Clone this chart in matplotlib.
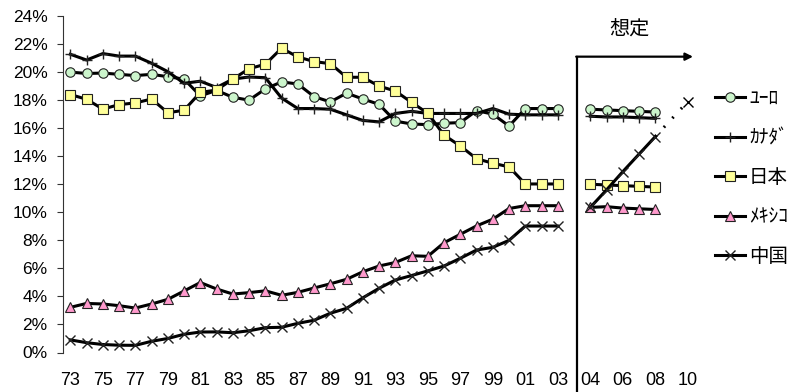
import matplotlib
matplotlib.use("Agg")
import matplotlib.pyplot as plt
from matplotlib.font_manager import FontProperties

# ---- data (share, %) ----
hist_years = [f"{y % 100:02d}" for y in range(1973, 2004)]
fc_years = ["04", "05", "06", "07", "08"]
tick_labels = ["73", "75", "77", "79", "81", "83", "85", "87", "89", "91",
               "93", "95", "97", "99", "01", "03", "04", "06", "08", "10"]

series_names = ["ﾕｰﾛ", "ｶﾅﾀﾞ", "日本", "ﾒｷｼｺ", "中国"]

euro_hist = [20.0, 19.9, 19.93, 19.84, 19.75, 19.84, 19.67, 19.5, 18.3, 18.7,
             18.2, 18.0, 18.8, 19.3, 19.15, 18.25, 17.87, 18.5, 18.08, 17.7,
             16.5, 16.3, 16.25, 16.35, 16.4, 17.25, 17.0, 16.15, 17.4, 17.4, 17.4]
canada_hist = [21.27, 20.86, 21.32, 21.14, 21.14, 20.63, 20.03, 19.2, 19.35, 18.9,
               19.5, 19.65, 19.6, 18.15, 17.4, 17.4, 17.35, 16.95, 16.55, 16.45,
               17.05, 17.2, 17.05, 17.05, 17.05, 17.05, 17.4, 17.0, 16.95, 16.95, 16.95]
japan_hist = [18.4, 18.06, 17.36, 17.68, 17.8, 18.08, 17.1, 17.28, 18.55, 18.72,
              19.5, 20.24, 20.56, 21.7, 21.08, 20.75, 20.6, 19.63, 19.63, 19.0,
              18.65, 17.84, 17.06, 15.5, 14.73, 13.82, 13.5, 13.24, 12.02, 12.02, 12.02]
mexico_hist = [3.22, 3.5, 3.46, 3.34, 3.17, 3.46, 3.79, 4.39, 4.99, 4.53,
               4.17, 4.27, 4.4, 4.08, 4.29, 4.6, 4.9, 5.22, 5.76, 6.17,
               6.42, 6.9, 6.86, 7.83, 8.43, 9.03, 9.51, 10.27, 10.47, 10.47, 10.47]
china_hist = [0.9, 0.7, 0.57, 0.52, 0.51, 0.8, 1.0, 1.3, 1.46, 1.47,
              1.41, 1.55, 1.77, 1.8, 2.08, 2.3, 2.8, 3.15, 3.9, 4.58,
              5.17, 5.49, 5.82, 6.17, 6.72, 7.31, 7.5, 8.0, 9.02, 9.02, 9.02]

euro_fc = [17.35, 17.3, 17.25, 17.2, 17.15]
canada_fc = [16.85, 16.8, 16.8, 16.75, 16.7]
japan_fc = [12.0, 11.95, 11.9, 11.85, 11.8]
mexico_fc = [10.35, 10.4, 10.3, 10.25, 10.2]
china_fc = [10.35, 11.6, 12.9, 14.15, 15.4]
china_2010 = 17.9

# ---- category positions: history, one empty slot, then forecast ----
x_hist = list(range(len(hist_years)))
x_fc = [len(hist_years) + 1 + i for i in range(len(fc_years))]
x_2010 = x_fc[-1] + 2
tick_pos = list(range(0, len(hist_years), 2)) + list(range(x_fc[0], x_2010 + 1, 2))

W, H = 807, 392
fig = plt.figure(figsize=(W / 100, H / 100), dpi=100)
ax = fig.add_axes([62.7 / W, (H - 352.5) / H, (700 - 62.7) / W, (352.5 - 16) / H])
ax.set_xlim(-0.47, 38.75)
ax.set_ylim(0, 24)

styles = [
    dict(marker="o", mfc="#CCF5CC", ms=6.8),
    dict(marker="+", mfc="black", ms=7, mew=1.0),
    dict(marker="s", mfc="#FFFF99", ms=6.5),
    dict(marker="^", mfc="#FF99CC", ms=7),
    dict(marker="x", mfc="black", ms=6.5, mew=1.0),
]
hist = [euro_hist, canada_hist, japan_hist, mexico_hist, china_hist]
fc = [euro_fc, canada_fc, japan_fc, mexico_fc, china_fc]

handles = []
for i, (h, f, st) in enumerate(zip(hist, fc, styles)):
    kw = dict(color="black", lw=2.2, mec="#222222",
              mew=st.get("mew", 0.8), marker=st["marker"], ms=st["ms"],
              mfc=st["mfc"], zorder=3 + i)
    line, = ax.plot(x_hist, h, **kw)
    ax.plot(x_fc, f, **kw)
    handles.append(line)

# dotted extension of the China projection to 2010
ax.plot([x_fc[-1], x_2010], [china_fc[-1], china_2010], color="black", lw=2.2,
        linestyle=(0, (0.6, 3.5)), zorder=7)
ax.plot([x_2010], [china_2010], linestyle="none", marker="x", ms=6.5, mew=1.0,
        color="black", zorder=8)

# axes styling
for s in ["top", "right", "bottom"]:
    ax.spines[s].set_visible(False)
ax.spines["left"].set_color("#333333")
ax.spines["left"].set_linewidth(0.8)

yt = list(range(0, 25, 2))
ax.set_yticks(yt)
ax.set_yticklabels([f"{v}%" for v in yt], fontfamily="Liberation Sans", fontsize=12.5)
ax.tick_params(axis="y", direction="out", length=4.3, width=0.8, pad=6.5, color="#333333")
ax.set_xticks(tick_pos)
ax.set_xticklabels(tick_labels, fontfamily="Liberation Sans", fontsize=13)
ax.tick_params(axis="x", length=0, pad=14)

# projection divider with arrow
x_div = 31.18
ax.plot([x_div, x_div], [-2.9, 21.1], color="black", lw=1.6, clip_on=False, zorder=2)
ax.annotate("", xy=(38.32, 21.1), xytext=(x_div - 0.05, 21.1),
            arrowprops=dict(arrowstyle="-|>", lw=1.6, color="black",
                            mutation_scale=11, shrinkA=0, shrinkB=0),
            annotation_clip=False)
ax.text(34.44, 23.1, "想定", fontfamily="Noto Sans CJK JP", fontsize=14.5,
        ha="center", va="center", clip_on=False)

fig.legend(handles, series_names, loc="upper left",
           bbox_to_anchor=(715 / W, 1 - 88 / H), frameon=False,
           prop=FontProperties(family=["Noto Sans CJK JP", "DejaVu Sans"], size=14),
           handlelength=1.55, handletextpad=0.2, labelspacing=0.95,
           borderpad=0, borderaxespad=0, numpoints=1)

fig.savefig("out.png", dpi=100)
